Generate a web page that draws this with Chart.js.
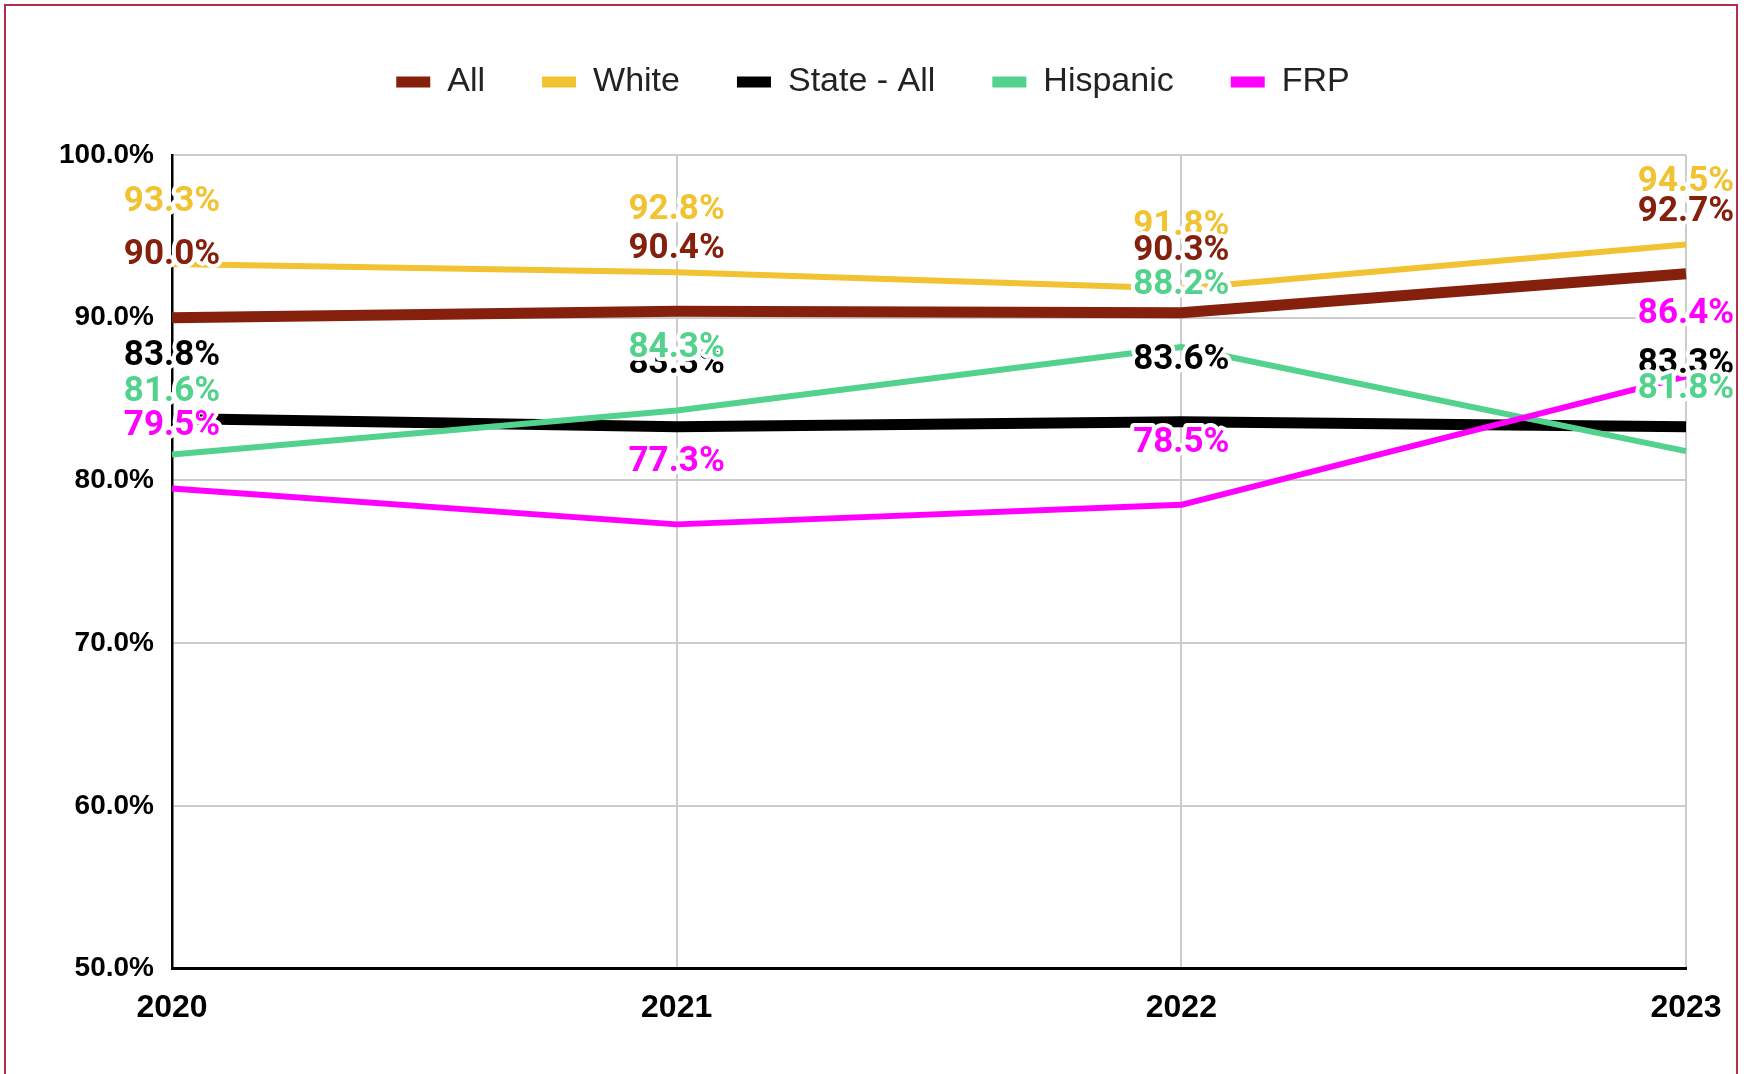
<!DOCTYPE html>
<html>
<head>
<meta charset="utf-8">
<script src="https://cdn.jsdelivr.net/npm/chart.js@4.4.1/dist/chart.umd.min.js"></script>
<style>
  body { margin: 0; background: #fff; }
  #wrap { position: relative; width: 1750px; height: 1074px; overflow: hidden; }
  #frame { position: absolute; left: 4px; top: 4px; width: 1734px; height: 1200px;
           border: 2px solid #b3304c; box-sizing: border-box; pointer-events: none; }
</style>
</head>
<body>
<div id="wrap">
  <canvas id="myChart"></canvas>
  <div id="frame"></div>
</div>
<script>
var years = ["2020", "2021", "2022", "2023"];
var allStudents = [90.0, 90.4, 90.3, 92.7];
var white = [93.3, 92.8, 91.8, 94.5];
var stateAll = [83.8, 83.3, 83.6, 83.3];
var hispanic = [81.6, 84.3, 88.2, 81.8];
var frp = [79.5, 77.3, 78.5, 86.4];

var seriesNames = ["All", "White", "State - All", "Hispanic", "FRP"];
var seriesColors = ["#85200c", "#f1c232", "#000000", "#52d28c", "#ff00ff"];
var seriesWidths = [11, 6, 11, 6, 6];
var seriesValues = [allStudents, white, stateAll, hispanic, frp];

// labels are painted in this order (later ones sit on top)
var labelOrder = [1, 0, 2, 3, 4];
var labelLift = 62;

const valueLabels = {
	id: "valueLabels",
	afterDatasetsDraw(chart) {
		const ctx = chart.ctx;
		ctx.save();
		ctx.font = "bold 35px Roboto";
		ctx.textAlign = "center";
		ctx.textBaseline = "middle";
		ctx.lineJoin = "round";
		ctx.lineWidth = 8;
		ctx.strokeStyle = "#ffffff";
		labelOrder.forEach(function (di) {
			const ds = chart.data.datasets[di];
			chart.getDatasetMeta(di).data.forEach(function (pt, i) {
				const txt = ds.data[i].toFixed(1) + "%";
				ctx.strokeText(txt, pt.x, pt.y - labelLift);
				ctx.fillStyle = ds.borderColor;
				ctx.fillText(txt, pt.x, pt.y - labelLift);
			});
		});
		ctx.restore();
	},
};

const data = {
	labels: years,
	datasets: seriesNames.map(function (name, i) {
		return {
			label: name,
			data: seriesValues[i],
			borderColor: seriesColors[i],
			backgroundColor: seriesColors[i],
			borderWidth: seriesWidths[i],
			pointRadius: 0,
			pointHoverRadius: 0,
			tension: 0,
			borderJoinStyle: "round",
			order: seriesNames.length - i,
		};
	}),
};

const config = {
	type: "line",
	data: data,
	plugins: [valueLabels],
	options: {
		responsive: true,
		maintainAspectRatio: false,
		animation: false,
		layout: {
			padding: { top: 8, left: 60, right: 64, bottom: 27 },
		},
		plugins: {
			tooltip: { enabled: false },
			legend: {
				position: "top",
				labels: {
					boxWidth: 34,
					boxHeight: 11,
					padding: 57,
					color: "#222222",
					font: { family: "Liberation Sans", size: 34 },
					sort: function (a, b) {
						return a.datasetIndex - b.datasetIndex;
					},
					generateLabels: function (chart) {
						return Chart.defaults.plugins.legend.labels
							.generateLabels(chart)
							.map(function (item) {
								item.lineWidth = 0;
								item.fillStyle = item.strokeStyle;
								return item;
							});
					},
				},
			},
			// empty subtitle just keeps a gap between legend and plot
			subtitle: {
				display: true,
				text: "",
				weight: 500,
				font: { size: 10 },
				padding: { top: 34, bottom: 0 },
			},
		},
		scales: {
			x: {
				offset: false,
				grid: { color: "#cccccc", lineWidth: 2, drawTicks: false },
				border: { color: "#000000", width: 3 },
				ticks: {
					color: "#000000",
					padding: 20,
					maxRotation: 0,
					font: { family: "Liberation Sans", size: 32, weight: "bold" },
				},
			},
			y: {
				min: 50,
				max: 100,
				grid: { color: "#cccccc", lineWidth: 2, drawTicks: false },
				border: { color: "#000000", width: 2.5 },
				afterFit: function (scale) {
					scale.width = 112;
				},
				ticks: {
					stepSize: 10,
					color: "#000000",
					padding: 18,
					font: { family: "Liberation Sans", size: 28, weight: "bold" },
					callback: function (v) {
						return v.toFixed(1) + "%";
					},
				},
			},
		},
	},
};

const myChart = new Chart(document.getElementById("myChart"), config);
</script>
</body>
</html>
